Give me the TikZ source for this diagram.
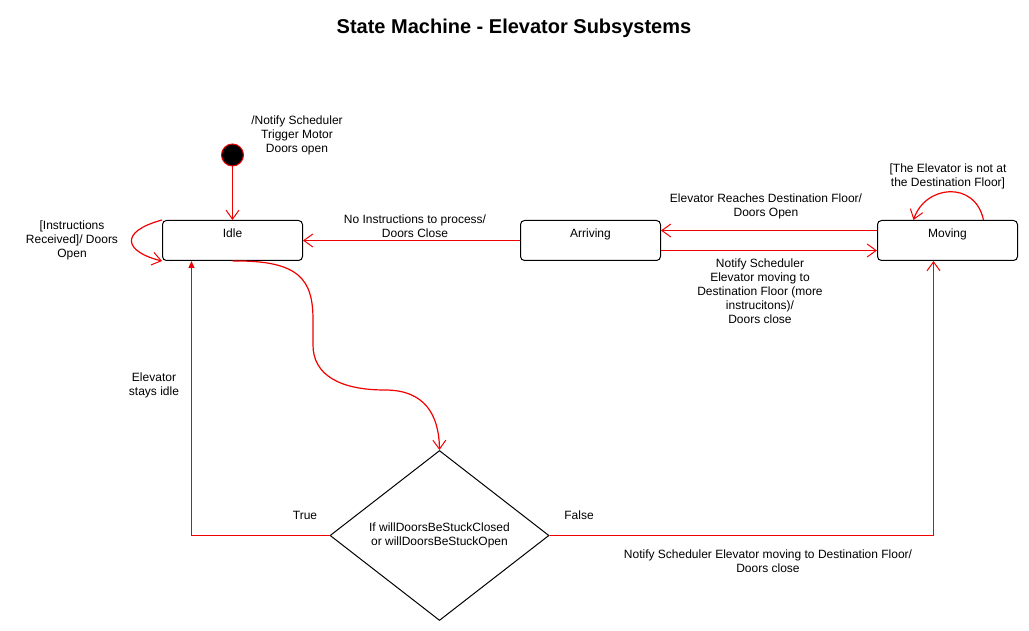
\documentclass[tikz,border=0pt]{standalone}
\usepackage{fontspec}
\setmainfont{Liberation Sans}
\usepackage{tikz}
\usetikzlibrary{arrows.meta}
\usetikzlibrary{shapes.geometric}
\definecolor{transred}{HTML}{F00000}
\tikzstyle{state}=[draw, rounded corners=4pt, minimum width=140pt, minimum height=40pt, inner sep=0, text height=9pt, text depth=14pt]
\tikzstyle{initial}=[draw=transred, fill=black, circle, minimum size=22pt, inner sep=0]
\tikzstyle{choice}=[draw, diamond, minimum width=219pt, minimum height=170pt, inner sep=0, align=center]
\tikzstyle{trans}=[draw=transred, line width=1.2pt, -{Straight Barb[length=9pt, width=13pt, line width=1pt]}]
\tikzstyle{ftrans}=[draw=transred, line width=1.2pt, -{Triangle[length=7pt, width=6pt]}]
\tikzstyle{lbl}=[align=center, inner sep=0]
\tikzstyle{statemachine}=[x=1pt, y=-1pt, line width=1pt,
                          % Labels use the draw.io default size.
                          every node/.style={font=\fontsize{12}{14}\selectfont}]

\begin{document}
\begin{tikzpicture}[statemachine]
    \useasboundingbox (0,0) rectangle (1029,631);
    \node[font=\bfseries\fontsize{20}{24}\selectfont] (title) at (514,28) {State Machine - Elevator Subsystems};

    % States
    \node[initial] (start) at (232.5,155) {};
    \node[state] (idle) at (232.5,240.5) {Idle};
    \node[state] (arriving) at (590.5,240.5) {Arriving};
    \node[state] (moving) at (947.5,240.5) {Moving};
    \node[choice] (check) at (439.5,535.5) {If willDoorsBeStuckClosed\\or willDoorsBeStuckOpen};

    % Transitions
    \draw[trans] (start) -- (idle);
    \draw[trans] (idle.north west) .. controls (118,232) and (125,252) .. (idle.south west);
    \draw[trans] (arriving) -- (idle);
    \draw[trans] ([yshift=10pt]moving.west) -- ([yshift=10pt]arriving.east);
    \draw[trans] ([yshift=-10pt]arriving.east) -- ([yshift=-10pt]moving.west);
    \draw[trans] ([xshift=36pt]moving.north) .. controls (975,180) and (925,185) .. ([xshift=-34pt]moving.north);
    \draw[trans] (idle.south) .. controls (300,260) and (313,280) .. (313,320) -- (313,345)
        .. controls (313,375) and (340,390) .. (385,390) .. controls (425,390) and (439,415) .. (check.north);
    \draw[ftrans] (check.west) -| ([xshift=-41pt]idle.south);
    \draw[trans] (check.east) -| ([xshift=-14pt]moving.south);

    % Labels
    \node[lbl] (lstart) at (297,135) {/Notify Scheduler\\Trigger Motor\\Doors open};
    \node[lbl] (lreceived) at (72,240) {[Instructions\\Received]/ Doors\\Open};
    \node[lbl] (lnoinstr) at (415,226) {No Instructions to process/\\Doors Close};
    \node[lbl] (lreaches) at (766,206) {Elevator Reaches Destination Floor/\\Doors Open};
    \node[lbl] (lmore) at (760,291) {Notify Scheduler\\Elevator moving to\\Destination Floor (more\\instrucitons)/\\Doors close};
    \node[lbl] (lnotat) at (948,176) {[The Elevator is not at\\the Destination Floor]};
    \node[lbl] (lidle) at (154,385) {Elevator\\stays idle};
    \node[lbl] (ltrue) at (305,515) {True};
    \node[lbl] (lfalse) at (579,515) {False};
    \node[lbl] (lnotify) at (768,561) {Notify Scheduler Elevator moving to Destination Floor/\\Doors close};
\end{tikzpicture}
\end{document}
